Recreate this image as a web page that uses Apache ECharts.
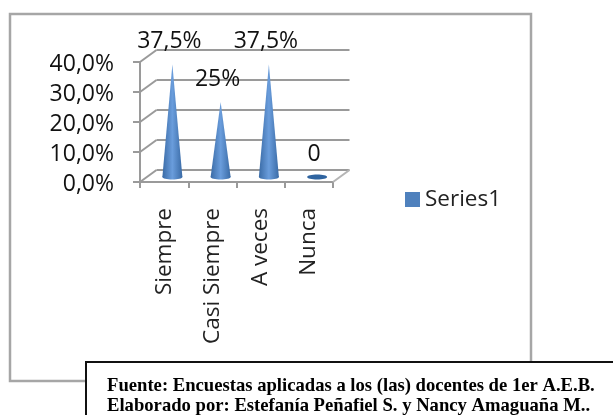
<!DOCTYPE html>
<html><head><meta charset="utf-8">
<style>html,body{margin:0;padding:0;background:#fff}#c{width:613px;height:415px}</style>
<script src="https://cdn.jsdelivr.net/npm/echarts@6/dist/echarts.min.js"></script>
</head><body><div id="c"></div>
<script>
const categories = ["Siempre","Casi Siempre","A veces","Nunca"];
const values = [0.375,0.25,0.375,0];
const valueLabels = ["37,5%","25%","37,5%","0"];
const yTicks = [0,0.1,0.2,0.3,0.4];
const seriesName = "Series1";
const sourceLines = ["Fuente: Encuestas aplicadas a los (las) docentes de 1er A.E.B.","Elaborado por: Estefanía Peñafiel S. y Nancy Amaguaña M.."];

const FONT = '"Open Sans"';
const GREY = '#9a9a9a';
const DX = 16.5, DY = -12;
const chart = echarts.init(document.getElementById('c'));
const coneFill = new echarts.graphic.LinearGradient(0,0,1,0,[
  {offset:0,color:'#3a6ba6'},{offset:.5,color:'#6a9ddc'},{offset:1,color:'#3a6ba6'}]);

chart.setOption({
  animation:false,
  backgroundColor:'#fff',
  grid:[
    {left:140,top:62,width:193,height:120},
    {left:140+DX,top:62+DY,width:193,height:120}
  ],
  xAxis:[
    {type:'category',gridIndex:0,data:categories,
     axisLine:{lineStyle:{color:GREY,width:2}},
     axisTick:{show:true,length:6,lineStyle:{color:GREY,width:2}},
     axisLabel:{rotate:90,interval:0,fontFamily:FONT,fontSize:22.5,color:'#222',margin:26}},
    {type:'category',gridIndex:1,data:categories,show:false}
  ],
  yAxis:[
    {type:'value',gridIndex:0,min:0,max:0.4,interval:0.1,
     splitLine:{show:false},
     axisLine:{show:true,lineStyle:{color:GREY,width:2}},
     axisTick:{show:true,length:7,lineStyle:{color:GREY,width:2}},
     axisLabel:{margin:26,
       rich:{t:{fontFamily:FONT,fontSize:23,color:'#111',padding:[5,0,0,0]}},
       formatter:v=>'{t|'+(v*100).toFixed(1).replace('.',',')+'%}'}},
    {type:'value',gridIndex:1,min:0,max:0.4,interval:0.1,
     axisLine:{show:false},axisTick:{show:false},axisLabel:{show:false},
     splitLine:{show:true,lineStyle:{color:GREY,width:2}}}
  ],
  legend:{data:[seriesName],left:400,top:183,itemWidth:15,itemHeight:15,itemGap:5,icon:'rect',
    textStyle:{fontFamily:FONT,fontSize:22.5,color:'#222'}},
  series:[
    {type:'custom',name:'depth',silent:true,xAxisIndex:0,yAxisIndex:0,z:1,
     data:yTicks.map(v=>[0,v]),
     renderItem:(p,api)=>{
       const c=api.coord([0,api.value(1)]);
       const x=c[0]-api.size([1,0])[0]/2;
       return {type:'line',shape:{x1:x,y1:c[1],x2:x+DX,y2:c[1]+DY},style:{stroke:GREY,lineWidth:2}};
     }},
    {type:'custom',name:'floor',silent:true,xAxisIndex:0,yAxisIndex:0,z:1,
     data:[[categories.length-1,0]],
     renderItem:(p,api)=>{
       const c=api.coord([api.value(0),0]);
       const x=c[0]+api.size([1,0])[0]/2;
       return {type:'line',shape:{x1:x,y1:c[1],x2:x+DX,y2:c[1]+DY},style:{stroke:'#b5b5b5',lineWidth:2}};
     }},
    {type:'custom',name:seriesName,xAxisIndex:0,yAxisIndex:0,z:3,
     itemStyle:{color:'#4f81bd'},
     data:categories.map((c,i)=>[i,values[i]]),
     renderItem:(p,api)=>{
       const i=api.value(0), v=api.value(1);
       const b=api.coord([i,0]), t=api.coord([i,v]);
       const cx=b[0]+DX/2, by=b[1]+DY/2+1, ty=t[1]+DY/2+1, r=10;
       const kids=[];
       if(v>0){
         kids.push({type:'ellipse',shape:{cx,cy:by,rx:r,ry:2.5},style:{fill:coneFill}});
         kids.push({type:'polygon',shape:{points:[[cx-r,by],[cx,ty],[cx+r,by]]},style:{fill:coneFill}});
       } else {
         kids.push({type:'ellipse',shape:{cx,cy:by,rx:r,ry:2.5},style:{fill:'#2f64a0'}});
       }
       kids.push({type:'text',style:{text:valueLabels[i],x:cx-3,y:ty-23,align:'center',verticalAlign:'middle',
         fontFamily:FONT,fontSize:23,fill:'#111'},z2:10});
       return {type:'group',children:kids};
     }}
  ],
  graphic:[
    {type:'rect',z:-1,shape:{x:10,y:14,width:521,height:367},style:{fill:'#fff',stroke:'#a6a6a6',lineWidth:2.5}},
    {type:'rect',z:100,shape:{x:86,y:362,width:560,height:90},style:{fill:'#fff',stroke:'#111',lineWidth:2}},
    {type:'text',z:101,x:107,y:377,style:{text:sourceLines[0],fontFamily:'"Liberation Serif"',fontWeight:'bold',fontSize:18.65,fill:'#000'}},
    {type:'text',z:101,x:107,y:397,style:{text:sourceLines[1],fontFamily:'"Liberation Serif"',fontWeight:'bold',fontSize:18.65,fill:'#000'}}
  ]
});
</script></body></html>
